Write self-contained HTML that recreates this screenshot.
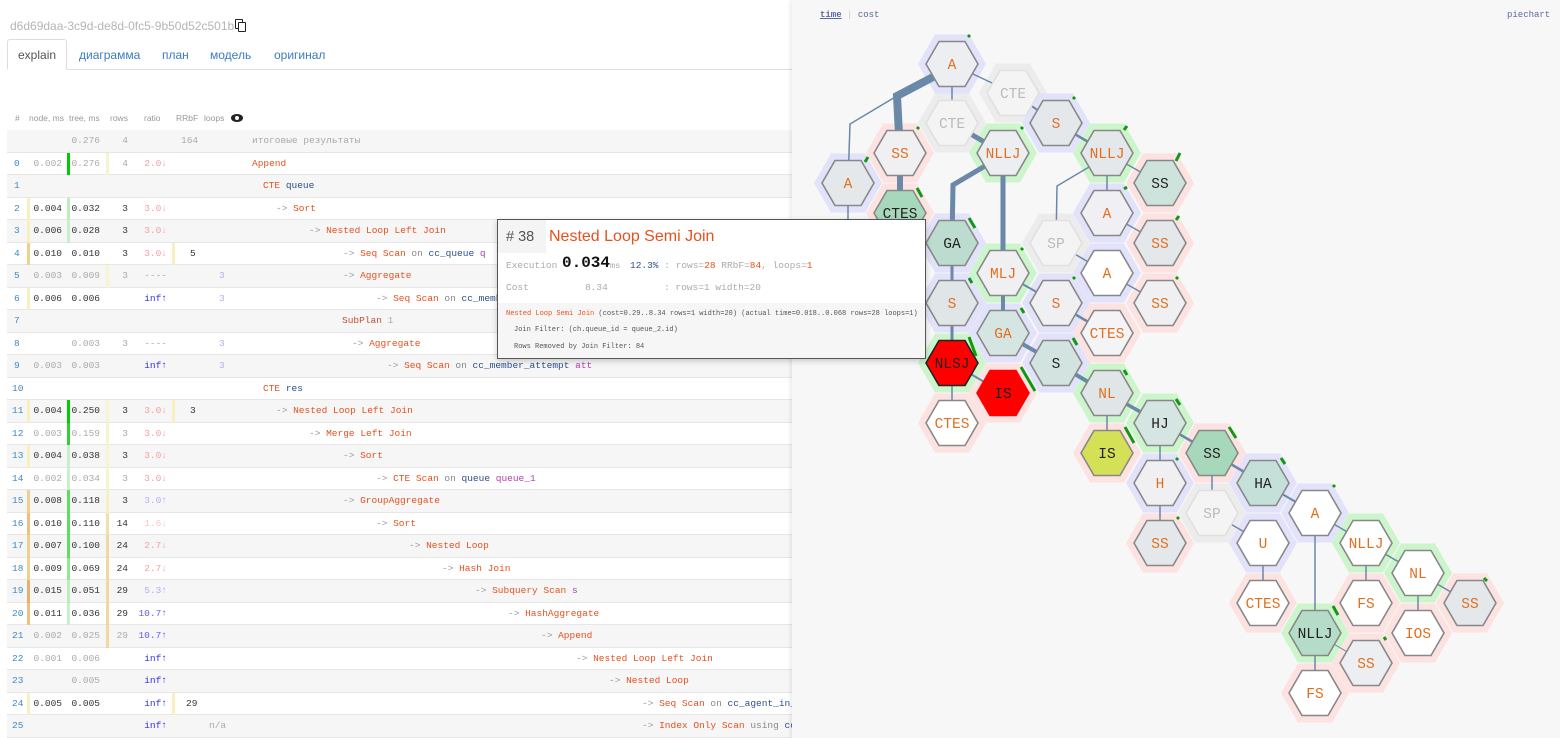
<!DOCTYPE html>
<html><head><meta charset="utf-8">
<style>
*{margin:0;padding:0;box-sizing:border-box}
body{width:1560px;height:738px;overflow:hidden;background:#fff;font-family:"Liberation Sans",sans-serif;position:relative}
.a{position:absolute;white-space:nowrap}
.m{font-family:"Liberation Mono","DejaVu Sans Mono",monospace;font-size:9.5px}
.row{position:absolute;left:7px;width:786px;height:22.5px;border-bottom:1px solid #e6e6e6}
.row .a{top:5px}
.g{background:#f6f6f6}
.num{color:#3a8ac8}
.dk{color:#333}.gy{color:#aaa}.pk{color:#f5a0a0}.bl{color:#3030e0}.lb{color:#b0b0f0}
.nm{color:#e8501e}.ar{color:#999}.on{color:#888}.tb{color:#2c4f8a}.al{color:#b040b0}
.bar{position:absolute;top:0;width:3px;height:22.5px}
#rp{position:absolute;left:792px;top:0;width:768px;height:738px;background:#f7f7f7;box-shadow:-2px 0 4px rgba(0,0,0,.08);z-index:5}
#pop{position:absolute;left:497px;top:219px;width:429px;height:140px;background:#fff;border:1px solid #555;z-index:10;box-shadow:0 2px 6px rgba(0,0,0,.2)}
</style></head><body>

<div class="a" style="left:10px;top:19px;font-size:12px;color:#b5b5b5">d6d69daa-3c9d-de8d-0fc5-9b50d52c501b</div>
<div class="a" style="left:235px;top:19px;width:8px;height:10px;border:1.5px solid #222;border-radius:1px"></div>
<div class="a" style="left:238px;top:22px;width:8px;height:10px;border:1.5px solid #222;background:#fff;border-radius:1px"></div>

<div class="a" style="left:7px;top:69px;width:786px;height:1px;background:#ddd"></div>
<div class="a" style="left:7px;top:39px;width:60px;height:31px;border:1px solid #ddd;border-bottom:1px solid #fff;border-radius:3px 3px 0 0;background:#fff"></div>
<div class="a" style="left:18px;top:48px;font-size:12px;color:#555">explain</div>
<div class="a" style="left:79px;top:48px;font-size:12px;color:#3a7cc0">диаграмма</div>
<div class="a" style="left:162px;top:48px;font-size:12px;color:#3a7cc0">план</div>
<div class="a" style="left:210px;top:48px;font-size:12px;color:#3a7cc0">модель</div>
<div class="a" style="left:274px;top:48px;font-size:12px;color:#3a7cc0">оригинал</div>

<!-- header -->
<div class="a" style="top:113px;left:15px;font-size:8.5px;color:#999">#</div>
<div class="a" style="top:113px;left:29px;font-size:8.5px;color:#999">node, ms</div>
<div class="a" style="top:113px;left:69px;font-size:8.5px;color:#999">tree, ms</div>
<div class="a" style="top:113px;left:110px;font-size:8.5px;color:#999">rows</div>
<div class="a" style="top:113px;left:144px;font-size:8.5px;color:#999">ratio</div>
<div class="a" style="top:113px;left:176px;font-size:8.5px;color:#999">RRbF</div>
<div class="a" style="top:113px;left:204px;font-size:8.5px;color:#999">loops</div>
<div class="a" style="top:114px;left:231px;width:12px;height:8px;border-radius:50%;background:#222"></div>
<div class="a" style="top:116px;left:235px;width:4px;height:4px;border-radius:50%;background:#fff"></div>

<div class="row g m" style="top:130px;height:22.5px">
<span class="a gy" style="right:693px">0.276</span><span class="a gy" style="right:665px">4</span><span class="a gy" style="left:174px">164</span><span class="a gy" style="left:245px">итоговые результаты</span></div>

<div class="row m" style="top:152.5px"><div class="bar" style="left:60px;background:#00cc00"></div><div class="bar" style="left:99px;background:#f8f4d0"></div><span class="a num" style="left:7px">0</span><span class="a gy" style="right:731px">0.002</span><span class="a gy" style="right:693px">0.276</span><span class="a gy" style="right:665px">4</span><span class="a pk" style="right:626px">2.0↓</span><span class="a nm" style="left:245px">Append</span></div>
<div class="row g m" style="top:175px"><span class="a num" style="left:7px">1</span><span class="a" style="left:256px"><span class="nm">CTE</span> <span class="tb">queue</span></span></div>
<div class="row m" style="top:197.5px"><div class="bar" style="left:20px;background:#f8f0c0"></div><div class="bar" style="left:60px;background:#b8f0b8"></div><span class="a num" style="left:7px">2</span><span class="a dk" style="right:731px">0.004</span><span class="a dk" style="right:693px">0.032</span><span class="a dk" style="right:665px">3</span><span class="a pk" style="right:626px">3.0↓</span><span class="a" style="left:269px"><span class="ar">-&gt;</span>  <span class="nm">Sort</span></span></div>
<div class="row g m" style="top:220px"><div class="bar" style="left:20px;background:#f8f0c0"></div><div class="bar" style="left:60px;background:#c8f0c8"></div><span class="a num" style="left:7px">3</span><span class="a dk" style="right:731px">0.006</span><span class="a dk" style="right:693px">0.028</span><span class="a dk" style="right:665px">3</span><span class="a pk" style="right:626px">3.0↓</span><span class="a" style="left:302px"><span class="ar">-&gt;</span>  <span class="nm">Nested Loop Left Join</span></span></div>
<div class="row m" style="top:242.5px"><div class="bar" style="left:20px;background:#f0d090"></div><div class="bar" style="left:165px;background:#f8f0c0"></div><span class="a num" style="left:7px">4</span><span class="a dk" style="right:731px">0.010</span><span class="a dk" style="right:693px">0.010</span><span class="a dk" style="right:665px">3</span><span class="a pk" style="right:626px">3.0↓</span><span class="a dk" style="left:183px">5</span><span class="a" style="left:336px"><span class="ar">-&gt;</span>  <span class="nm">Seq Scan</span> <span class="on">on</span> <span class="tb">cc_queue</span> <span class="al">q</span></span></div>
<div class="row g m" style="top:265px"><div class="bar" style="left:99px;background:#f8f4d0"></div><span class="a num" style="left:7px">5</span><span class="a gy" style="right:731px">0.003</span><span class="a gy" style="right:693px">0.009</span><span class="a gy" style="right:665px">3</span><span class="a gy" style="right:626px">----</span><span class="a lb" style="left:212px">3</span><span class="a" style="left:336px"><span class="ar">-&gt;</span>  <span class="nm">Aggregate</span></span></div>
<div class="row m" style="top:287.5px"><div class="bar" style="left:20px;background:#f8f0c0"></div><span class="a num" style="left:7px">6</span><span class="a dk" style="right:731px">0.006</span><span class="a dk" style="right:693px">0.006</span><span class="a bl" style="right:626px">inf↑</span><span class="a lb" style="left:212px">3</span><span class="a" style="left:369px"><span class="ar">-&gt;</span>  <span class="nm">Seq Scan</span> <span class="on">on</span> <span class="tb">cc_member_attempt</span></span></div>
<div class="row g m" style="top:310px"><span class="a num" style="left:7px">7</span><span class="a" style="left:335px;color:#c05030">SubPlan <span class="gy">1</span></span></div>
<div class="row m" style="top:332.5px"><span class="a num" style="left:7px">8</span><span class="a gy" style="right:693px">0.003</span><span class="a gy" style="right:665px">3</span><span class="a gy" style="right:626px">----</span><span class="a lb" style="left:212px">3</span><span class="a" style="left:345px"><span class="ar">-&gt;</span>  <span class="nm">Aggregate</span></span></div>
<div class="row g m" style="top:355px"><span class="a num" style="left:7px">9</span><span class="a gy" style="right:731px">0.003</span><span class="a gy" style="right:693px">0.003</span><span class="a bl" style="right:626px">inf↑</span><span class="a lb" style="left:212px">3</span><span class="a" style="left:380px"><span class="ar">-&gt;</span>  <span class="nm">Seq Scan</span> <span class="on">on</span> <span class="tb">cc_member_attempt</span> <span class="al">att</span></span></div>
<div class="row m" style="top:377.5px"><span class="a num" style="left:5px">10</span><span class="a" style="left:256px"><span class="nm">CTE</span> <span class="tb">res</span></span></div>
<div class="row g m" style="top:400px"><div class="bar" style="left:20px;background:#f8f0c0"></div><div class="bar" style="left:60px;background:#00cc00"></div><div class="bar" style="left:99px;background:#f8f4d0"></div><div class="bar" style="left:165px;background:#f8f0c0"></div><span class="a num" style="left:5px">11</span><span class="a dk" style="right:731px">0.004</span><span class="a dk" style="right:693px">0.250</span><span class="a dk" style="right:665px">3</span><span class="a pk" style="right:626px">3.0↓</span><span class="a dk" style="left:183px">3</span><span class="a" style="left:269px"><span class="ar">-&gt;</span>  <span class="nm">Nested Loop Left Join</span></span></div>
<div class="row m" style="top:422.5px"><div class="bar" style="left:60px;background:#30d030"></div><div class="bar" style="left:99px;background:#f8f4d0"></div><span class="a num" style="left:5px">12</span><span class="a gy" style="right:731px">0.003</span><span class="a gy" style="right:693px">0.159</span><span class="a gy" style="right:665px">3</span><span class="a pk" style="right:626px">3.0↓</span><span class="a" style="left:302px"><span class="ar">-&gt;</span>  <span class="nm">Merge Left Join</span></span></div>
<div class="row g m" style="top:445px"><div class="bar" style="left:20px;background:#f8f0c0"></div><div class="bar" style="left:60px;background:#c8f0c8"></div><div class="bar" style="left:99px;background:#f8f4d0"></div><span class="a num" style="left:5px">13</span><span class="a dk" style="right:731px">0.004</span><span class="a dk" style="right:693px">0.038</span><span class="a dk" style="right:665px">3</span><span class="a pk" style="right:626px">3.0↓</span><span class="a" style="left:336px"><span class="ar">-&gt;</span>  <span class="nm">Sort</span></span></div>
<div class="row m" style="top:467.5px"><div class="bar" style="left:60px;background:#c8f0c8"></div><div class="bar" style="left:99px;background:#f8f4d0"></div><span class="a num" style="left:5px">14</span><span class="a gy" style="right:731px">0.002</span><span class="a gy" style="right:693px">0.034</span><span class="a gy" style="right:665px">3</span><span class="a pk" style="right:626px">3.0↓</span><span class="a" style="left:369px"><span class="ar">-&gt;</span>  <span class="nm">CTE Scan</span> <span class="on">on</span> <span class="tb">queue</span> <span class="al">queue_1</span></span></div>
<div class="row g m" style="top:490px"><div class="bar" style="left:20px;background:#f0d090"></div><div class="bar" style="left:60px;background:#60dd60"></div><div class="bar" style="left:99px;background:#f8f0c0"></div><span class="a num" style="left:5px">15</span><span class="a dk" style="right:731px">0.008</span><span class="a dk" style="right:693px">0.118</span><span class="a dk" style="right:665px">3</span><span class="a lb" style="right:626px">3.0↑</span><span class="a" style="left:336px"><span class="ar">-&gt;</span>  <span class="nm">GroupAggregate</span></span></div>
<div class="row m" style="top:512.5px"><div class="bar" style="left:20px;background:#f0c080"></div><div class="bar" style="left:60px;background:#60dd60"></div><div class="bar" style="left:99px;background:#f0e0b0"></div><span class="a num" style="left:5px">16</span><span class="a dk" style="right:731px">0.010</span><span class="a dk" style="right:693px">0.110</span><span class="a dk" style="right:665px">14</span><span class="a" style="right:626px;color:#f8c8c8">1.6↓</span><span class="a" style="left:369px"><span class="ar">-&gt;</span>  <span class="nm">Sort</span></span></div>
<div class="row g m" style="top:535px"><div class="bar" style="left:20px;background:#f0d090"></div><div class="bar" style="left:60px;background:#60dd60"></div><div class="bar" style="left:99px;background:#f0d8a0"></div><span class="a num" style="left:5px">17</span><span class="a dk" style="right:731px">0.007</span><span class="a dk" style="right:693px">0.100</span><span class="a dk" style="right:665px">24</span><span class="a pk" style="right:626px">2.7↓</span><span class="a" style="left:402px"><span class="ar">-&gt;</span>  <span class="nm">Nested Loop</span></span></div>
<div class="row m" style="top:557.5px"><div class="bar" style="left:20px;background:#f0d090"></div><div class="bar" style="left:60px;background:#90e890"></div><div class="bar" style="left:99px;background:#f0d8a0"></div><span class="a num" style="left:5px">18</span><span class="a dk" style="right:731px">0.009</span><span class="a dk" style="right:693px">0.069</span><span class="a dk" style="right:665px">24</span><span class="a pk" style="right:626px">2.7↓</span><span class="a" style="left:435px"><span class="ar">-&gt;</span>  <span class="nm">Hash Join</span></span></div>
<div class="row g m" style="top:580px"><div class="bar" style="left:20px;background:#e8b070"></div><div class="bar" style="left:60px;background:#b8f0b8"></div><div class="bar" style="left:99px;background:#f0d8a0"></div><span class="a num" style="left:5px">19</span><span class="a dk" style="right:731px">0.015</span><span class="a dk" style="right:693px">0.051</span><span class="a dk" style="right:665px">29</span><span class="a lb" style="right:626px">5.3↑</span><span class="a" style="left:468px"><span class="ar">-&gt;</span>  <span class="nm">Subquery Scan</span> <span class="al">s</span></span></div>
<div class="row m" style="top:602.5px"><div class="bar" style="left:20px;background:#f0c080"></div><div class="bar" style="left:60px;background:#c8f0c8"></div><div class="bar" style="left:99px;background:#f0d8a0"></div><span class="a num" style="left:5px">20</span><span class="a dk" style="right:731px">0.011</span><span class="a dk" style="right:693px">0.036</span><span class="a dk" style="right:665px">29</span><span class="a" style="right:626px;color:#6060e8">10.7↑</span><span class="a" style="left:501px"><span class="ar">-&gt;</span>  <span class="nm">HashAggregate</span></span></div>
<div class="row g m" style="top:625px"><div class="bar" style="left:99px;background:#f0d8a0"></div><span class="a num" style="left:5px">21</span><span class="a gy" style="right:731px">0.002</span><span class="a gy" style="right:693px">0.025</span><span class="a gy" style="right:665px">29</span><span class="a" style="right:626px;color:#6060e8">10.7↑</span><span class="a" style="left:534px"><span class="ar">-&gt;</span>  <span class="nm">Append</span></span></div>
<div class="row m" style="top:647.5px"><span class="a num" style="left:5px">22</span><span class="a gy" style="right:731px">0.001</span><span class="a gy" style="right:693px">0.006</span><span class="a bl" style="right:626px">inf↑</span><span class="a" style="left:569px"><span class="ar">-&gt;</span>  <span class="nm">Nested Loop Left Join</span></span></div>
<div class="row g m" style="top:670px"><span class="a num" style="left:5px">23</span><span class="a gy" style="right:693px">0.005</span><span class="a bl" style="right:626px">inf↑</span><span class="a" style="left:602px"><span class="ar">-&gt;</span>  <span class="nm">Nested Loop</span></span></div>
<div class="row m" style="top:692.5px"><div class="bar" style="left:20px;background:#f8f0c0"></div><div class="bar" style="left:165px;background:#f8f0c0"></div><span class="a num" style="left:5px">24</span><span class="a dk" style="right:731px">0.005</span><span class="a dk" style="right:693px">0.005</span><span class="a bl" style="right:626px">inf↑</span><span class="a dk" style="left:179px">29</span><span class="a" style="left:635px"><span class="ar">-&gt;</span>  <span class="nm">Seq Scan</span> <span class="on">on</span> <span class="tb">cc_agent_in_queue</span></span></div>
<div class="row g m" style="top:715px"><span class="a num" style="left:5px">25</span><span class="a bl" style="right:626px">inf↑</span><span class="a gy" style="left:202px">n/a</span><span class="a" style="left:635px"><span class="ar">-&gt;</span>  <span class="nm">Index Only Scan</span> <span class="on">using</span> <span class="tb">cc_agent</span></span></div>

<!-- right panel -->
<div id="rp">
<div class="a m" style="left:28px;top:10px;font-size:9px;color:#5a6a9a"><span style="text-decoration:underline;font-weight:bold">time</span> <span style="color:#ccc">|</span> cost</div>
<div class="a m" style="left:715px;top:10px;font-size:9px;color:#5a6a9a">piechart</div>
<svg width="768" height="738" style="position:absolute;left:0;top:0" viewBox="792 0 768 738">
<defs>
<polygon id="H" points="-26,0 -13,-22.5 13,-22.5 26,0 13,22.5 -13,22.5"/>
<polygon id="O" points="-34,0 -17,-29.5 17,-29.5 34,0 17,29.5 -17,29.5"/>
</defs>
<g stroke="none">
<use href="#O" x="952" y="64" fill="#e2e2fa"/>
<use href="#O" x="1013" y="93" fill="#ececec"/>
<use href="#O" x="952" y="123" fill="#ececec"/>
<use href="#O" x="1056" y="123" fill="#e2e2fa"/>
<use href="#O" x="900" y="153" fill="#fde2e2"/>
<use href="#O" x="1003" y="153" fill="#ccf5cc"/>
<use href="#O" x="1107" y="153" fill="#ccf5cc"/>
<use href="#O" x="848" y="183" fill="#e2e2fa"/>
<use href="#O" x="1160" y="183" fill="#fde2e2"/>
<use href="#O" x="900" y="213" fill="#fde2e2"/>
<use href="#O" x="1107" y="213" fill="#e2e2fa"/>
<use href="#O" x="952" y="243" fill="#e2e2fa"/>
<use href="#O" x="1056" y="243" fill="#ececec"/>
<use href="#O" x="1160" y="243" fill="#fde2e2"/>
<use href="#O" x="1003" y="273" fill="#ccf5cc"/>
<use href="#O" x="1107" y="273" fill="#e2e2fa"/>
<use href="#O" x="952" y="303" fill="#e2e2fa"/>
<use href="#O" x="1056" y="303" fill="#e2e2fa"/>
<use href="#O" x="1160" y="303" fill="#fde2e2"/>
<use href="#O" x="1003" y="333" fill="#e2e2fa"/>
<use href="#O" x="1107" y="333" fill="#fde2e2"/>
<use href="#O" x="952" y="363" fill="#ccf5cc"/>
<use href="#O" x="1056" y="363" fill="#e2e2fa"/>
<use href="#O" x="1003" y="393" fill="#fde2e2"/>
<use href="#O" x="1107" y="393" fill="#ccf5cc"/>
<use href="#O" x="952" y="423" fill="#fde2e2"/>
<use href="#O" x="1160" y="423" fill="#ccf5cc"/>
<use href="#O" x="1107" y="453" fill="#fde2e2"/>
<use href="#O" x="1212" y="453" fill="#fde2e2"/>
<use href="#O" x="1160" y="483" fill="#e2e2fa"/>
<use href="#O" x="1263" y="483" fill="#e2e2fa"/>
<use href="#O" x="1212" y="513" fill="#ececec"/>
<use href="#O" x="1315" y="513" fill="#e2e2fa"/>
<use href="#O" x="1160" y="543" fill="#fde2e2"/>
<use href="#O" x="1263" y="543" fill="#e2e2fa"/>
<use href="#O" x="1366" y="543" fill="#ccf5cc"/>
<use href="#O" x="1418" y="573" fill="#ccf5cc"/>
<use href="#O" x="1263" y="603" fill="#fde2e2"/>
<use href="#O" x="1366" y="603" fill="#fde2e2"/>
<use href="#O" x="1470" y="603" fill="#fde2e2"/>
<use href="#O" x="1315" y="633" fill="#ccf5cc"/>
<use href="#O" x="1418" y="633" fill="#fde2e2"/>
<use href="#O" x="1366" y="663" fill="#fde2e2"/>
<use href="#O" x="1315" y="693" fill="#fde2e2"/>
</g>
<g fill="none" stroke="#6a88a8" stroke-linejoin="miter">
<polyline points="935,76 897,96 900,153" stroke-width="8"/>
<polyline points="897,96 850,124 848,183" stroke-width="1.5"/>
<line x1="952" y1="64" x2="952" y2="123" stroke-width="1.5"/>
<line x1="952" y1="64" x2="1013" y2="93" stroke-width="1.5"/>
<line x1="1013" y1="93" x2="1056" y2="123" stroke-width="2"/>
<line x1="952" y1="123" x2="1003" y2="153" stroke-width="5"/>
<line x1="1056" y1="123" x2="1107" y2="153" stroke-width="2.5"/>
<line x1="900" y1="153" x2="900" y2="213" stroke-width="6"/>
<line x1="848" y1="183" x2="848" y2="240" stroke-width="1.5"/>
<polyline points="985,166 953,185 952,243" stroke-width="5"/>
<line x1="1003" y1="153" x2="1003" y2="273" stroke-width="5"/>
<line x1="1107" y1="153" x2="1160" y2="183" stroke-width="1.5"/>
<line x1="1107" y1="153" x2="1107" y2="213" stroke-width="1.5"/>
<polyline points="1089,167 1057,186 1056,243" stroke-width="1.5"/>
<line x1="1107" y1="213" x2="1160" y2="243" stroke-width="1.5"/>
<line x1="1056" y1="243" x2="1107" y2="273" stroke-width="1.5"/>
<line x1="1107" y1="273" x2="1160" y2="303" stroke-width="1.5"/>
<line x1="952" y1="243" x2="952" y2="363" stroke-width="3"/>
<line x1="1003" y1="273" x2="1056" y2="303" stroke-width="2"/>
<line x1="1003" y1="273" x2="1003" y2="333" stroke-width="4"/>
<line x1="1056" y1="303" x2="1107" y2="333" stroke-width="2.5"/>
<line x1="1003" y1="333" x2="1056" y2="363" stroke-width="4"/>
<line x1="952" y1="363" x2="1003" y2="393" stroke-width="2"/>
<line x1="952" y1="363" x2="952" y2="423" stroke-width="1.5"/>
<line x1="1056" y1="363" x2="1107" y2="393" stroke-width="4"/>
<line x1="1107" y1="393" x2="1160" y2="423" stroke-width="3.5"/>
<line x1="1107" y1="393" x2="1107" y2="453" stroke-width="1.5"/>
<line x1="1160" y1="423" x2="1212" y2="453" stroke-width="2.5"/>
<line x1="1160" y1="423" x2="1160" y2="543" stroke-width="1.5"/>
<line x1="1212" y1="453" x2="1212" y2="513" stroke-width="1.5"/>
<line x1="1212" y1="453" x2="1263" y2="483" stroke-width="2.5"/>
<line x1="1263" y1="483" x2="1315" y2="513" stroke-width="2"/>
<line x1="1212" y1="513" x2="1263" y2="543" stroke-width="1.5"/>
<line x1="1263" y1="543" x2="1263" y2="603" stroke-width="1.5"/>
<line x1="1315" y1="513" x2="1366" y2="543" stroke-width="1.5"/>
<line x1="1315" y1="513" x2="1315" y2="633" stroke-width="1.5"/>
<line x1="1366" y1="543" x2="1418" y2="573" stroke-width="1.5"/>
<line x1="1366" y1="543" x2="1366" y2="603" stroke-width="1.5"/>
<line x1="1418" y1="573" x2="1470" y2="603" stroke-width="1.5"/>
<line x1="1418" y1="573" x2="1418" y2="633" stroke-width="1.5"/>
<line x1="1315" y1="633" x2="1366" y2="663" stroke-width="1"/>
<line x1="1315" y1="633" x2="1315" y2="693" stroke-width="1.5"/>
</g>
<g stroke="#888" stroke-width="1.6">
<use href="#H" x="952" y="64" fill="#eceef2"/>
<use href="#H" x="1013" y="93" fill="#f4f4f4" stroke="#e0e0e0"/>
<use href="#H" x="952" y="123" fill="#f4f4f4" stroke="#e0e0e0"/>
<use href="#H" x="1056" y="123" fill="#e4e8eb"/>
<use href="#H" x="900" y="153" fill="#f0f0f3"/>
<use href="#H" x="1003" y="153" fill="#eceef2"/>
<use href="#H" x="1107" y="153" fill="#e4e8eb"/>
<use href="#H" x="848" y="183" fill="#e4e8eb"/>
<use href="#H" x="1160" y="183" fill="#cfe3dd"/>
<use href="#H" x="900" y="213" fill="#a8d8bb"/>
<use href="#H" x="1107" y="213" fill="#f0f0f4"/>
<use href="#H" x="952" y="243" fill="#bcdccf"/>
<use href="#H" x="1056" y="243" fill="#f4f4f4" stroke="#e0e0e0"/>
<use href="#H" x="1160" y="243" fill="#e4e8eb"/>
<use href="#H" x="1003" y="273" fill="#f0f0f3"/>
<use href="#H" x="1107" y="273" fill="#ffffff"/>
<use href="#H" x="952" y="303" fill="#e0e6e8"/>
<use href="#H" x="1056" y="303" fill="#f0f0f3"/>
<use href="#H" x="1160" y="303" fill="#f0f0f3"/>
<use href="#H" x="1003" y="333" fill="#d5e5e2"/>
<use href="#H" x="1107" y="333" fill="#f4f4f6"/>
<use href="#H" x="952" y="363" fill="#ff0000" stroke="#222"/>
<use href="#H" x="1056" y="363" fill="#d3e3e0"/>
<use href="#H" x="1003" y="393" fill="#ff0000" stroke="#ff0000"/>
<use href="#H" x="1107" y="393" fill="#e0e6e8"/>
<use href="#H" x="952" y="423" fill="#ffffff"/>
<use href="#H" x="1160" y="423" fill="#d5e5e2"/>
<use href="#H" x="1107" y="453" fill="#d4e157"/>
<use href="#H" x="1212" y="453" fill="#a8d8bb"/>
<use href="#H" x="1160" y="483" fill="#f0f0f3"/>
<use href="#H" x="1263" y="483" fill="#c5e0d8"/>
<use href="#H" x="1212" y="513" fill="#f4f4f4" stroke="#e0e0e0"/>
<use href="#H" x="1315" y="513" fill="#ffffff"/>
<use href="#H" x="1160" y="543" fill="#e4e8eb"/>
<use href="#H" x="1263" y="543" fill="#ffffff"/>
<use href="#H" x="1366" y="543" fill="#ffffff"/>
<use href="#H" x="1418" y="573" fill="#ffffff"/>
<use href="#H" x="1263" y="603" fill="#ffffff"/>
<use href="#H" x="1366" y="603" fill="#ffffff"/>
<use href="#H" x="1470" y="603" fill="#e4e8eb"/>
<use href="#H" x="1315" y="633" fill="#b5dcc8"/>
<use href="#H" x="1418" y="633" fill="#ffffff"/>
<use href="#H" x="1366" y="663" fill="#eceef2"/>
<use href="#H" x="1315" y="693" fill="#ffffff"/>
</g>
<g stroke="#119911" stroke-width="3" stroke-linecap="butt">
<line x1="968" y1="37" x2="970" y2="35"/>
<line x1="1073" y1="99" x2="1075" y2="97"/>
<line x1="917" y1="129" x2="919" y2="127"/>
<line x1="1021" y1="129" x2="1023" y2="127"/>
<line x1="1124" y1="130" x2="1127" y2="126"/>
<line x1="865" y1="162" x2="868" y2="157"/>
<line x1="1176" y1="161" x2="1180" y2="153"/>
<line x1="917" y1="188" x2="922" y2="197"/>
<line x1="1124" y1="189" x2="1127" y2="187"/>
<line x1="969" y1="218" x2="975" y2="228"/>
<line x1="1176" y1="220" x2="1179" y2="216"/>
<line x1="1021" y1="250" x2="1023" y2="248"/>
<line x1="969" y1="278" x2="972" y2="283"/>
<line x1="1073" y1="279" x2="1075" y2="277"/>
<line x1="1176" y1="279" x2="1178" y2="277"/>
<line x1="1021" y1="308" x2="1024" y2="313"/>
<line x1="1073" y1="338" x2="1077" y2="345"/>
<line x1="969" y1="337" x2="976" y2="356"/>
<line x1="1021" y1="367" x2="1035" y2="391"/>
<line x1="1124" y1="370" x2="1127" y2="375"/>
<line x1="1176" y1="399" x2="1180" y2="405"/>
<line x1="1125" y1="427" x2="1134" y2="443"/>
<line x1="1229" y1="427" x2="1236" y2="438"/>
<line x1="1176" y1="460" x2="1178" y2="458"/>
<line x1="1281" y1="458" x2="1285" y2="464"/>
<line x1="1177" y1="519" x2="1179" y2="517"/>
<line x1="1333" y1="487" x2="1335" y2="485"/>
<line x1="1484" y1="578" x2="1487" y2="581"/>
<line x1="1333" y1="606" x2="1338" y2="615"/>
<line x1="1384" y1="637" x2="1386" y2="640"/>
</g>
<g font-family="Liberation Mono, DejaVu Sans Mono, monospace" font-size="14.5" text-anchor="middle" fill="#e07020">
<text x="952" y="69">A</text>
<text x="1013" y="98" fill="#bbb">CTE</text>
<text x="952" y="128" fill="#bbb">CTE</text>
<text x="1056" y="128">S</text>
<text x="900" y="158">SS</text>
<text x="1003" y="158">NLLJ</text>
<text x="1107" y="158">NLLJ</text>
<text x="848" y="188">A</text>
<text x="1160" y="188" fill="#222">SS</text>
<text x="900" y="218" fill="#222">CTES</text>
<text x="1107" y="218">A</text>
<text x="952" y="248" fill="#222">GA</text>
<text x="1056" y="248" fill="#bbb">SP</text>
<text x="1160" y="248">SS</text>
<text x="1003" y="278">MLJ</text>
<text x="1107" y="278">A</text>
<text x="952" y="308">S</text>
<text x="1056" y="308">S</text>
<text x="1160" y="308">SS</text>
<text x="1003" y="338">GA</text>
<text x="1107" y="338">CTES</text>
<text x="952" y="368" fill="#222">NLSJ</text>
<text x="1056" y="368" fill="#222">S</text>
<text x="1003" y="398" fill="#222">IS</text>
<text x="1107" y="398">NL</text>
<text x="952" y="428">CTES</text>
<text x="1160" y="428" fill="#222">HJ</text>
<text x="1107" y="458" fill="#222">IS</text>
<text x="1212" y="458" fill="#222">SS</text>
<text x="1160" y="488">H</text>
<text x="1263" y="488" fill="#222">HA</text>
<text x="1212" y="518" fill="#bbb">SP</text>
<text x="1315" y="518">A</text>
<text x="1160" y="548">SS</text>
<text x="1263" y="548">U</text>
<text x="1366" y="548">NLLJ</text>
<text x="1418" y="578">NL</text>
<text x="1263" y="608">CTES</text>
<text x="1366" y="608">FS</text>
<text x="1470" y="608">SS</text>
<text x="1315" y="638" fill="#222">NLLJ</text>
<text x="1418" y="638">IOS</text>
<text x="1366" y="668">SS</text>
<text x="1315" y="698">FS</text>
</g>
</svg>
</div>

<!-- popup -->
<div id="pop">
<div class="a" style="left:0;top:0;width:48px;height:33px;background:#f4f4f4"></div>
<div class="a" style="left:8px;top:9px;font-size:14.5px;color:#555;font-family:'Liberation Sans',sans-serif"># 38</div>
<div class="a" style="left:51px;top:8px;font-size:16px;color:#e8501e;font-family:'Liberation Sans',sans-serif">Nested Loop Semi Join</div>
<div class="a m" style="left:8px;top:40px;font-size:9.5px;color:#aaa">Execution</div>
<div class="a m" style="left:64px;top:34px;font-size:16px;color:#111;font-weight:bold">0.034</div>
<div class="a m" style="left:112px;top:41px;font-size:8.5px;color:#aaa">ms</div>
<div class="a m" style="left:132px;top:40px;font-size:9.5px"><span style="color:#2c4f8a">12.3%</span> <span style="color:#aaa">: rows=</span><span style="color:#e8501e">28</span> <span style="color:#aaa">RRbF=</span><span style="color:#e8501e">84</span><span style="color:#aaa">, loops=</span><span style="color:#e8501e">1</span></div>
<div class="a m" style="left:8px;top:62px;font-size:9.5px;color:#aaa">Cost</div>
<div class="a m" style="left:87px;top:62px;font-size:9.5px;color:#aaa">8.34</div>
<div class="a m" style="left:166px;top:62px;font-size:9.5px;color:#aaa">: rows=1 width=20</div>
<div class="a" style="left:0;top:83px;width:427px;height:55px;background:#f6f6f6"></div>
<div class="a m" style="left:8px;top:90px;font-size:7px;color:#555"><span style="color:#e8501e">Nested Loop Semi Join</span>  (cost=0.29..8.34 rows=1 width=20) (actual time=0.018..0.068 rows=28 loops=1)</div>
<div class="a m" style="left:16px;top:106px;font-size:7px;color:#555">Join Filter: (ch.queue_id = queue_2.id)</div>
<div class="a m" style="left:16px;top:123px;font-size:7px;color:#555">Rows Removed by Join Filter: 84</div>
</div>
</body></html>
